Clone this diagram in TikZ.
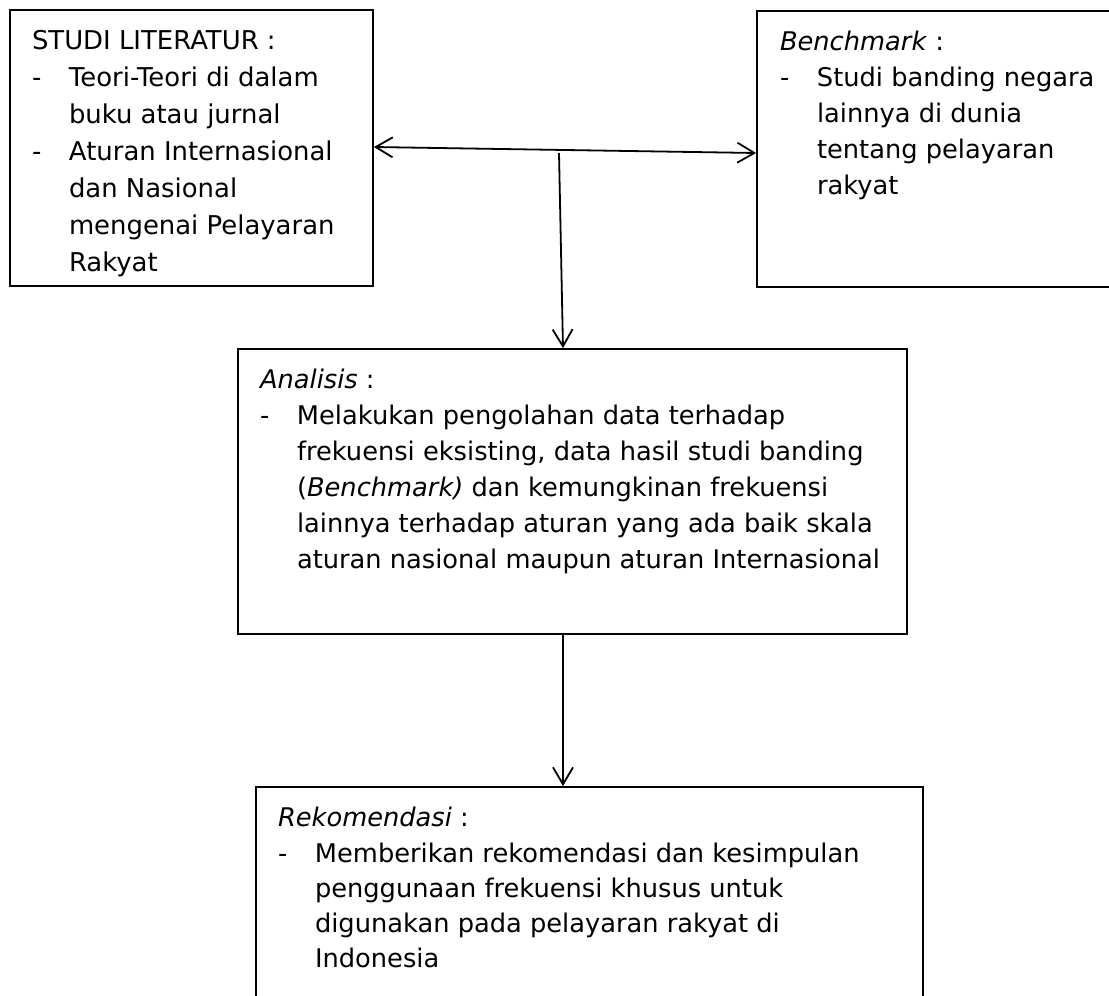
\documentclass[tikz,border=0pt]{standalone}
\usepackage{fontspec}
\setmainfont{DejaVu Sans}
\usetikzlibrary{positioning, arrows.meta}

\newcommand{\dashitem}{\makebox[37pt][l]{-}}
\newcommand{\hangsp}{\hspace*{37pt}}

\tikzset{
  box/.style={draw, line width=1.8pt, inner sep=0pt},
  boxtext/.style={anchor=north west, align=left, inner sep=0pt, font=\fontsize{25.7}{36}\selectfont},
}

\begin{document}
\begin{tikzpicture}[x=1pt, y=-1pt, >={Straight Barb[length=17pt, width=20pt]}, line width=1.8pt]
\useasboundingbox (0,0) rectangle (1109,996);
\clip (0,0) rectangle (1109,996);

% kotak
\node [box, minimum width=363pt, minimum height=276pt] (lit) at (191.5,148) {};
\node [box, minimum width=355pt, minimum height=276pt] (bench) at (934.5,149) {};
\node [box, minimum width=669pt, minimum height=285pt] (ana) at (572.5,491.5) {};
\node [box, minimum width=667pt, minimum height=213pt] (rek) at (589.5,893.5) {};

% isi kotak
\node [boxtext, font=\fontsize{25.9}{37}\selectfont] (litText) at ([shift={(22,14)}]lit.north west)
  {\strut STUDI LITERATUR :\\
   \dashitem Teori-Teori di dalam\\
   \hangsp buku atau jurnal\\
   \dashitem Aturan Internasional\\
   \hangsp dan Nasional\\
   \hangsp mengenai Pelayaran\\
   \hangsp Rakyat};
\node [boxtext] (benchText) at ([shift={(23,14)}]bench.north west)
  {\strut\textit{Benchmark} :\\
   \dashitem Studi banding negara\\
   \hangsp lainnya di dunia\\
   \hangsp tentang pelayaran\\
   \hangsp rakyat};
\node [boxtext] (anaText) at ([shift={(22,14)}]ana.north west)
  {\strut\textit{Analisis} :\\
   \dashitem Melakukan pengolahan data terhadap\\
   \hangsp frekuensi eksisting, data hasil studi banding\\
   \hangsp (\textit{Benchmark)} dan kemungkinan frekuensi\\
   \hangsp lainnya terhadap aturan yang ada baik skala\\
   \hangsp aturan nasional maupun aturan Internasional};
\node [boxtext, font=\fontsize{25.7}{35.3}\selectfont] (rekText) at ([shift={(22,15)}]rek.north west)
  {\strut\textit{Rekomendasi} :\\
   \dashitem Memberikan rekomendasi dan kesimpulan\\
   \hangsp penggunaan frekuensi khusus untuk\\
   \hangsp digunakan pada pelayaran rakyat di\\
   \hangsp Indonesia};

% panah
\coordinate (mid) at (559,153);
\draw [<->] ([yshift=1pt]lit.east) -- ([yshift=-4pt]bench.west);
\draw [->] (mid) -- ([xshift=-9.5pt]ana.north);
\draw [->] ([xshift=-9.5pt]ana.south) -- ([xshift=-26.5pt]rek.north);
\end{tikzpicture}
\end{document}
